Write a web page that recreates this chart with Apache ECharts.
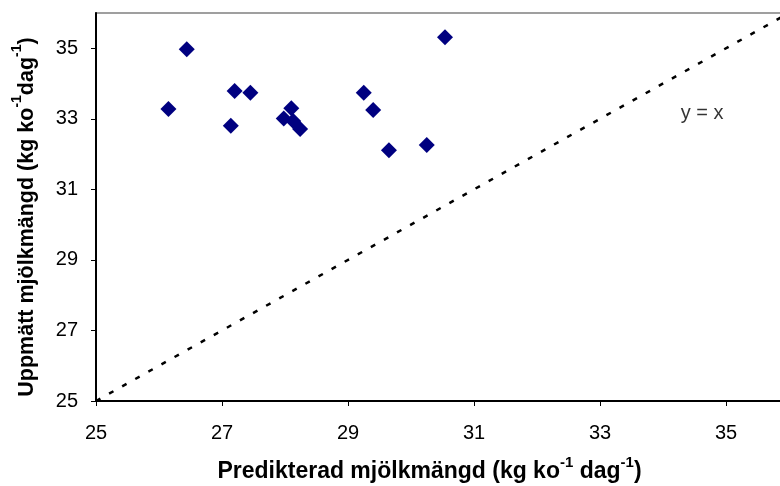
<!DOCTYPE html>
<html>
<head>
<meta charset="utf-8">
<script src="https://cdn.jsdelivr.net/npm/echarts@6/dist/echarts.min.js"></script>
<style>html,body{margin:0;padding:0;background:#fff}#c{width:780px;height:486px}</style>
</head>
<body>
<div id="c"></div>
<script>
// Data
var predicted = [26.15, 26.44, 27.14, 27.20, 27.45, 28.10, 27.98, 28.13, 28.24, 30.54, 29.25, 29.40, 29.65, 30.25];
var observed  = [33.28, 34.97, 32.80, 33.79, 33.74, 33.30, 33.01, 32.94, 32.71, 35.31, 33.74, 33.25, 32.11, 32.26];
var tickValues = [25, 27, 29, 31, 33, 35];
var identityLine = [[25, 25], [36, 36]];
var lineLabel = 'y = x';
var lineLabelPos = [34.62, 33.14];

var points = predicted.map(function (x, i) { return [x, observed[i]]; });

var font = 'Liberation Sans, Arial, sans-serif';
function richFor(size) {
  return {
    a: { fontFamily: font, fontSize: size, fontWeight: 'bold', color: '#000', lineHeight: 28, verticalAlign: 'bottom' },
    s: { fontFamily: font, fontSize: Math.round(size * 0.64), fontWeight: 'bold', color: '#000', lineHeight: 28, verticalAlign: 'top' }
  };
}

var chart = echarts.init(document.getElementById('c'), null, { renderer: 'canvas' });
chart.setOption({
  animation: false,
  backgroundColor: '#fff',
  grid: { left: 96, top: 13, right: -9, bottom: 85, show: true, borderColor: '#808080', borderWidth: 1.5, backgroundColor: 'transparent', containLabel: false, outerBoundsMode: 'none' },
  xAxis: {
    type: 'value', min: 25, max: 36,
    axisLine: { show: true, onZero: false, lineStyle: { color: '#000', width: 2 } },
    axisTick: { show: true, length: 5, customValues: tickValues, lineStyle: { color: '#000', width: 1 } },
    axisLabel: { customValues: tickValues, margin: 22, fontFamily: font, fontSize: 20, color: '#000' },
    splitLine: { show: false },
    name: '{a|Predikterad mjölkmängd (kg ko}{s|-1}{a| dag}{s|-1}{a|)}',
    nameLocation: 'middle', nameGap: 54,
    nameTextStyle: { rich: richFor(23), padding: [0, 26, 0, 0] }
  },
  yAxis: {
    type: 'value', min: 25, max: 36,
    axisLine: { show: true, onZero: false, lineStyle: { color: '#000', width: 2 } },
    axisTick: { show: true, length: 5, customValues: tickValues, lineStyle: { color: '#000', width: 1 } },
    axisLabel: { customValues: tickValues, margin: 18, fontFamily: font, fontSize: 20, color: '#000' },
    splitLine: { show: false },
    name: '{a|Uppmätt mjölkmängd (kg ko}{s|-1}{a|dag}{s|-1}{a|)}',
    nameLocation: 'middle', nameGap: 58,
    nameTextStyle: { rich: richFor(21.5), padding: [0, 20, 0, 0] }
  },
  series: [
    {
      type: 'line', data: identityLine, symbol: 'none', silent: true, z: 1,
      lineStyle: { color: '#000', width: 2.5, type: [5, 10] }
    },
    {
      type: 'scatter', data: points, symbol: 'diamond', symbolSize: 16, z: 3,
      itemStyle: { color: '#000080', opacity: 1 }
    },
    {
      type: 'scatter', data: [lineLabelPos], symbolSize: 0, silent: true,
      label: { show: true, position: 'inside', formatter: lineLabel, fontFamily: font, fontSize: 20, color: '#000' }
    }
  ]
});
</script>
</body>
</html>
